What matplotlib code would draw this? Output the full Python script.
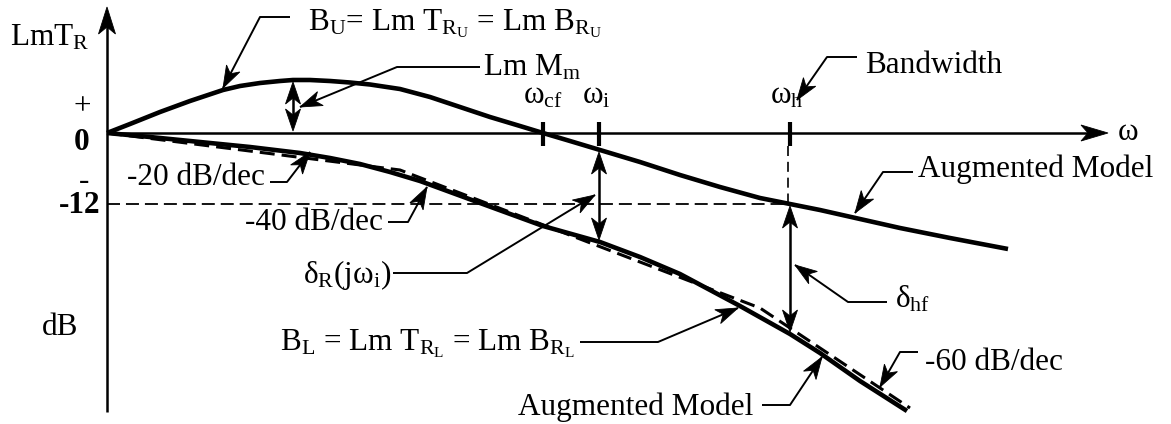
import numpy as np
import matplotlib
matplotlib.use("Agg")
import matplotlib.pyplot as plt
from matplotlib.patches import Polygon

plt.rcParams["font.family"] = ["Liberation Serif", "DejaVu Serif"]
plt.rcParams["mathtext.fontset"] = "custom"
plt.rcParams["mathtext.rm"] = "Liberation Serif"
plt.rcParams["mathtext.it"] = "Liberation Serif:italic"
plt.rcParams["mathtext.bf"] = "Liberation Serif:bold"
plt.rcParams["mathtext.default"] = "regular"

# ---- diagram data (diagram units: x to the right, y downward) ----
# upper bound B_U (augmented model)
upper_x = [107, 130, 160, 190, 223, 240, 260, 280, 293, 310, 330, 350, 370,
           400, 430, 460, 490, 520, 543, 570, 600, 640, 680, 720, 760, 790,
           820, 860, 900, 950, 1008]
upper_y = [133, 124, 112, 101, 90, 86, 83, 81, 80, 80, 81, 82.5, 84.5,
           89, 97, 107, 117, 126, 133, 141, 150, 162, 175, 187, 198, 204,
           210, 219, 228, 238, 249]
# lower bound B_L (augmented model)
lower_x = [107, 150, 200, 250, 300, 330, 360, 390, 420, 450, 480, 543, 600,
           640, 680, 710, 740, 765, 790, 820, 860, 907]
lower_y = [133, 137, 142, 147, 153, 158, 164, 172, 181, 192, 203, 226, 242,
           257, 274, 290, 306, 320, 334, 353, 381, 411]
# straight-line asymptotes of B_L: -20, -40, -60 dB/dec
asym_x = [107, 400, 760, 910]
asym_y = [133, 170, 308, 408]
# frequency markers on the ω axis
w_cf, w_i, w_h = 543, 599, 790
# magnitude levels: 0 dB and -12 dB
level_0, level_m12 = 133, 204

FS = 22.5
LW_CURVE = 3.3
LW_AXIS = 1.8
LW_LEAD = 1.4

fig = plt.figure(figsize=(11.71, 4.24), dpi=100)
ax = fig.add_axes([0, 0, 1, 1])
ax.set_xlim(0, 1171)
ax.set_ylim(424, 0)
ax.axis("off")


def arrowhead(tip, prev, length=22, half=7.5, notch=6, z=6):
    tip = np.asarray(tip, float)
    d = tip - np.asarray(prev, float)
    d /= np.hypot(*d)
    n = np.array([-d[1], d[0]])
    base = tip - d * length
    pts = [tip, base + n * half, tip - d * (length - notch), base - n * half]
    ax.add_patch(Polygon(pts, closed=True, fc="k", ec="k", lw=0.6, zorder=z))


def leader(points, lw=LW_LEAD):
    xs, ys = zip(*points)
    ax.plot(xs, ys, color="k", lw=lw, solid_capstyle="butt", zorder=5)
    arrowhead(points[-1], points[-2])


def double_arrow(x, y1, y2):
    ax.plot([x, x], [y1 + 10, y2 - 10], color="k", lw=1.8, zorder=5)
    arrowhead((x, y1), (x, y2))
    arrowhead((x, y2), (x, y1))


def label(x, y, s, **kw):
    kw.setdefault("fontsize", FS)
    ax.text(x, y, s, ha=kw.pop("ha", "left"), va=kw.pop("va", "baseline"),
            color="k", zorder=7, **kw)


# axes
ax.plot([107, 107], [412, 20], color="k", lw=LW_AXIS, solid_capstyle="butt")
arrowhead((107, 7), (107, 40), length=27, half=8.5, notch=7)
ax.plot([107, 1095], [level_0, level_0], color="k", lw=LW_AXIS,
        solid_capstyle="butt")
arrowhead((1108, level_0), (1000, level_0), length=27, half=8, notch=7)

# -12 dB reference line and bandwidth marker
ax.plot([107, w_h], [level_m12, level_m12], color="k", lw=1.3,
        linestyle=(0, (7.2, 3.3)), zorder=2)
ax.plot([w_h - 2, w_h - 2], [146, level_m12], color="k", lw=1.2,
        linestyle=(0, (6, 3.5)), zorder=2)

# frequency ticks
for wx in (w_cf, w_i, w_h):
    ax.plot([wx, wx], [122, 146], color="k", lw=3.0, solid_capstyle="butt",
            zorder=4)

# asymptotes (dashed) and bounds (solid)
ax.plot(asym_x, asym_y, color="k", lw=2.2, linestyle=(0, (4.9, 2.3)),
        zorder=2)
ax.plot(upper_x, upper_y, color="k", lw=LW_CURVE, solid_capstyle="butt",
        solid_joinstyle="round", zorder=3)
ax.plot(lower_x, lower_y, color="k", lw=LW_CURVE, solid_capstyle="butt",
        solid_joinstyle="round", zorder=3)

# measured differences
double_arrow(293, 82, 131)
double_arrow(w_i, 152, 240)
double_arrow(w_h, 206, 332)

# leaders with arrowheads
leader([(290, 17), (260, 17), (223, 88)])
leader([(480, 67), (397, 67), (300, 107)])
leader([(857, 57), (827, 57), (797, 100)])
leader([(913, 172), (883, 172), (855, 213)])
leader([(270, 182), (287, 182), (310, 152)])
leader([(388, 222), (408, 222), (427, 187)])
leader([(393, 273), (467, 273), (595, 195)])
leader([(580, 342), (658, 342), (738, 308)])
leader([(762, 405), (790, 405), (822, 357)])
leader([(887, 302), (848, 302), (795, 265)])
leader([(918, 352), (900, 352), (880, 387)])

# texts
label(10, 45, r"LmT$_\mathrm{R}$")
label(82, 114, "+", ha="center")
label(82, 150, "0", ha="center", fontweight="bold")
label(84, 189, "-", ha="center")
label(100, 213, "-12", ha="right", fontweight="bold")
label(42, 335, "dB")
label(1118, 140, "ω")
label(308, 30, r"B$_\mathrm{U}$= Lm T$_{\mathrm{R}_\mathrm{U}}$ = Lm B$_{\mathrm{R}_\mathrm{U}}$")
label(483, 75, r"Lm M$_\mathrm{m}$")
label(523, 103, r"ω$_\mathrm{cf}$")
label(582, 103, r"ω$_\mathrm{i}$")
label(770, 103, r"ω$_\mathrm{h}$")
label(865, 73, "Bandwidth")
label(918, 177, "Augmented Model")
label(127, 185, "-20 dB/dec")
label(245, 230, "-40 dB/dec")
label(303, 283, r"δ$_\mathrm{R}$(jω$_\mathrm{i}$)")
label(280, 350, r"B$_\mathrm{L}$ = Lm T$_{\mathrm{R}_\mathrm{L}}$ = Lm B$_{\mathrm{R}_\mathrm{L}}$")
label(895, 308, r"δ$_\mathrm{hf}$")
label(925, 370, "-60 dB/dec")
label(518, 415, "Augmented Model")

fig.savefig("out.png", dpi=100)
